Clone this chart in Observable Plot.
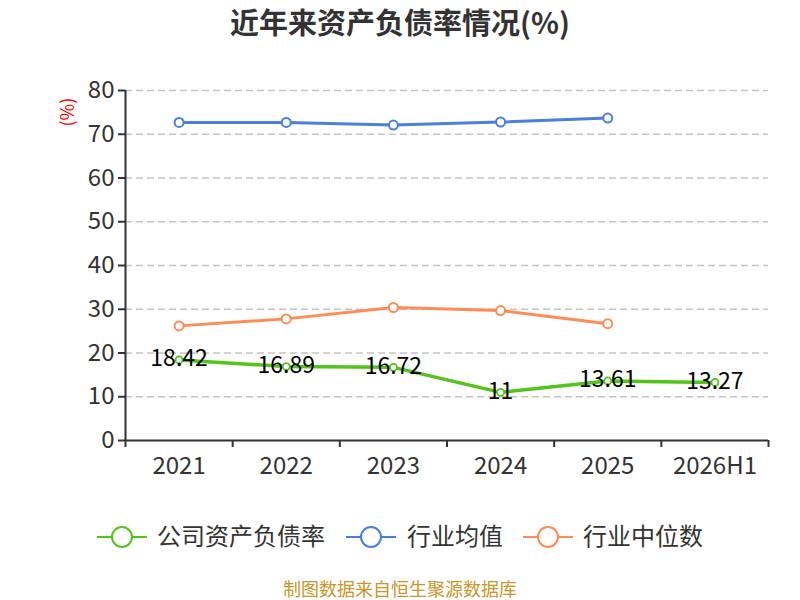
<!DOCTYPE html>
<html><head><meta charset="utf-8">
<script src="https://cdn.jsdelivr.net/npm/d3@7"></script>
<script src="https://cdn.jsdelivr.net/npm/@observablehq/plot@0.6"></script>
<style>
body{margin:0;background:#fff;font-family:"Noto Sans CJK SC","Noto Sans",sans-serif;}
#wrap{position:relative;width:800px;height:600px;overflow:hidden;}
#title{position:absolute;top:1px;left:0;width:800px;text-align:center;font-size:29px;line-height:40px;font-weight:bold;color:#333;}
#chart{position:absolute;top:0;left:0;}
#legend{position:absolute;top:518px;left:0;width:800px;height:40px;}
#caption{position:absolute;top:578px;left:0;width:800px;text-align:center;font-size:18px;line-height:20px;color:#c8962a;}
</style></head>
<body><div id="wrap">
<div id="chart"></div>
<div id="title">近年来资产负债率情况(%)</div>
<div id="legend"></div>
<div id="caption">制图数据来自恒生聚源数据库</div>
</div>
<script>
const categories = ["2021","2022","2023","2024","2025","2026H1"];
const companyRatio = [18.42,16.89,16.72,11,13.61,13.27];
const industryAvg = [72.7,72.7,72.1,72.8,73.7];
const industryMedian = [26.2,27.8,30.4,29.7,26.7];
const seriesNames = ["公司资产负债率","行业均值","行业中位数"];
const colors = ["#52c41a","#4a7fe0","#ff8c55"];
const yTicks = [0,10,20,30,40,50,60,70,80];

const comp = companyRatio.map((v,i)=>({x:i+0.5,y:v,label:String(v)}));
const avg = industryAvg.map((v,i)=>({x:i+0.5,y:v}));
const med = industryMedian.map((v,i)=>({x:i+0.5,y:v}));

const plot = Plot.plot({
  width:800, height:500,
  marginLeft:125, marginRight:32, marginTop:90, marginBottom:60,
  style:{fontFamily:'"Noto Sans CJK SC","Noto Sans",sans-serif', background:"transparent"},
  x:{domain:[0,6], axis:null},
  y:{domain:[0,80], axis:null},
  marks:[
    Plot.ruleY(yTicks.filter(d=>d>0),{stroke:"#c4c4c4",strokeDasharray:"7,4",strokeWidth:1.3}),
    Plot.axisY({ticks:yTicks,tickSize:7,fontSize:24,color:"#333",stroke:"#333",strokeWidth:2,tickPadding:4,label:null,tickFormat:d=>d}),
    Plot.ruleX([0],{stroke:"#333",strokeWidth:2}),
    Plot.ruleY([0],{stroke:"#333",strokeWidth:2}),
    Plot.axisX({ticks:[0,1,2,3,4,5,6],tickSize:7,tickFormat:()=>"",stroke:"#333",strokeWidth:2,label:null}),
    Plot.axisX({ticks:categories.map((c,i)=>i+0.5),tickSize:0,tickPadding:16,fontSize:24,color:"#333",tickFormat:(d)=>categories[Math.round(d-0.5)],label:null}),
    Plot.text(["(%)"],{frameAnchor:"top-left",dx:-64,dy:36,rotate:-90,text:d=>d,fill:"red",fontSize:18}),
    Plot.line(avg,{x:"x",y:"y",stroke:colors[1],strokeWidth:3}),
    Plot.dot(avg,{x:"x",y:"y",r:4.5,fill:"white",stroke:colors[1],strokeWidth:2}),
    Plot.line(med,{x:"x",y:"y",stroke:colors[2],strokeWidth:3}),
    Plot.dot(med,{x:"x",y:"y",r:4.5,fill:"white",stroke:colors[2],strokeWidth:2}),
    Plot.line(comp,{x:"x",y:"y",stroke:colors[0],strokeWidth:3.5}),
    Plot.dot(comp,{x:"x",y:"y",r:3.5,fill:"white",stroke:colors[0],strokeWidth:1.8}),
    Plot.text(comp,{x:"x",y:"y",text:"label",fill:"#000",fontSize:23,dy:-1})
  ]
});
document.getElementById("chart").appendChild(plot);

// legend
const lg = d3.select("#legend").append("svg").attr("width",800).attr("height",40);
const items = [
  {cx:122,tx:157},{cx:371,tx:407},{cx:548,tx:583}
];
seriesNames.forEach((n,i)=>{
  const g = lg.append("g");
  g.append("line").attr("x1",items[i].cx-25).attr("x2",items[i].cx+25).attr("y1",19).attr("y2",19).attr("stroke",colors[i]).attr("stroke-width",2);
  g.append("circle").attr("cx",items[i].cx).attr("cy",19).attr("r",10).attr("fill","white").attr("stroke",colors[i]).attr("stroke-width",2);
  g.append("text").attr("x",items[i].tx).attr("y",19).attr("dy","0.35em").attr("font-size",24).attr("fill","#333").attr("font-family",'"Noto Sans CJK SC",sans-serif').text(n);
});
</script>
</body></html>
